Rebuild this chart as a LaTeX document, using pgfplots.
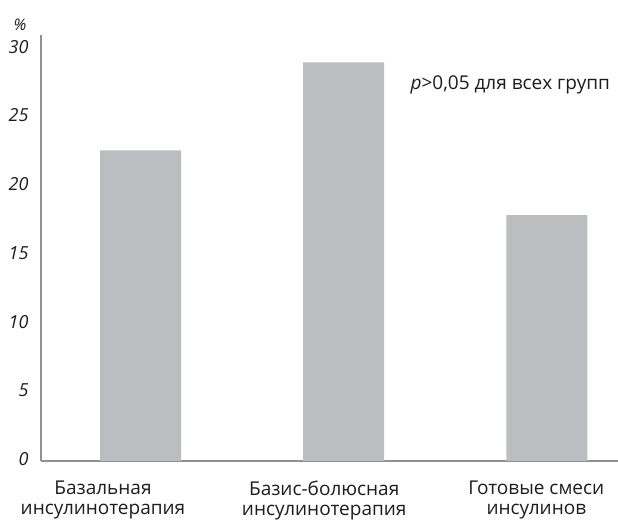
\documentclass[border=0pt]{standalone}
\usepackage{pgfplots}
\pgfplotsset{compat=1.18}
\usepackage{fontspec}
\setmainfont{Open Sans}
\definecolor{barc}{RGB}{188,189,193}
\definecolor{axc}{RGB}{145,145,147}
\definecolor{txt}{RGB}{30,28,28}
\begin{document}
\begin{tikzpicture}
\begin{axis}[
  at={(0,0)}, anchor=south west,
  scale only axis, width=577pt, height=426pt,
  xmin=-0.49, xmax=2.35, ymin=0, ymax=31,
  axis x line*=bottom, axis y line*=left,
  axis line style={axc, line width=1.6pt, -},
  ytick={0,5,10,15,20,25,30},
  xtick={-0.185,0.904,1.948},
  xticklabels={{Базальная\\инсулинотерапия},{Базис-болюсная\\инсулинотерапия},{Готовые смеси\\инсулинов}},
  xticklabel style={align=center, font=\fontsize{19}{20.5}\selectfont, text=txt, yshift=-16pt},
  yticklabel style={font=\fontsize{18}{22}\selectfont\itshape, text=txt, xshift=-9pt, yshift=2pt},
  /pgf/number format/assume math mode=true,
  major tick length=0pt,
  ybar, bar width=81pt,
  clip=false,
]
\addplot[fill=barc, draw=none] coordinates {(0,22.6) (1,29.0) (2,17.9)};
\node[anchor=base west, text=txt, font=\fontsize{19}{22}\selectfont, inner sep=0pt] at (axis cs:1.328,27.0) {\textit{p}>0,05 для всех групп};
\node[text=txt, font=\fontsize{16}{20}\selectfont\itshape] at (rel axis cs:0,1) [xshift=-21pt, yshift=10pt] {\%};
\end{axis}
\pgfresetboundingbox
\path (-41pt,-60pt) rectangle (577pt,461pt);
\end{tikzpicture}
\end{document}
